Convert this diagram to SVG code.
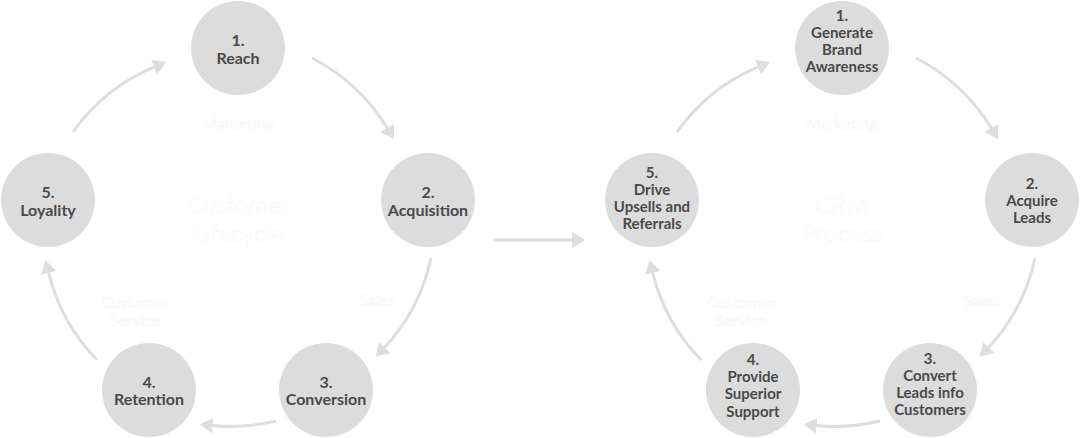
<svg xmlns="http://www.w3.org/2000/svg" width="1080" height="438" viewBox="0 0 1080 438">
<style>
.node{fill:#dcdcdc}
.lbl{font-family:Lato,"Liberation Sans",sans-serif;font-weight:bold;fill:#4a4a4a;text-anchor:middle}
.l16{font-size:16px}
.l15{font-size:15px}
.ghost{font-family:Lato,"Liberation Sans",sans-serif;fill:#ffffff;stroke:#f6f6f6;stroke-width:0.5;text-anchor:middle}
.g16{font-size:16px}
.g24{font-size:24px}
.conn{fill:none;stroke:#dedede;stroke-width:3}
</style>
<defs>
<marker id="ah" markerUnits="userSpaceOnUse" markerWidth="14" markerHeight="16" refX="1" refY="8" orient="auto" viewBox="0 0 14 16">
<path d="M0,0 L13,8 L0,16 z" fill="#dedede"/>
</marker>
</defs>
<rect width="1080" height="438" fill="#ffffff"/>
<g id="connectors">
<path class="conn" marker-end="url(#ah)" d="M312,58 A190,190 0 0 1 387.7,128.8"/>
<path class="conn" marker-end="url(#ah)" d="M431,258 A190,190 0 0 1 384,348.1"/>
<path class="conn" marker-end="url(#ah)" d="M276,421 A190,190 0 0 1 211.7,425.5"/>
<path class="conn" marker-end="url(#ah)" d="M97,360 A190,190 0 0 1 48.5,271.9"/>
<path class="conn" marker-end="url(#ah)" d="M73,132 A190,190 0 0 1 155,66.7"/>
<path class="conn" marker-end="url(#ah)" d="M493,240 L573,240"/>
<path class="conn" marker-end="url(#ah)" d="M916,58 A190,190 0 0 1 991.7,128.8"/>
<path class="conn" marker-end="url(#ah)" d="M1035,258 A190,190 0 0 1 988,348.1"/>
<path class="conn" marker-end="url(#ah)" d="M880,421 A190,190 0 0 1 815.7,425.5"/>
<path class="conn" marker-end="url(#ah)" d="M701,360 A190,190 0 0 1 652.5,271.9"/>
<path class="conn" marker-end="url(#ah)" d="M677,132 A190,190 0 0 1 759,66.7"/>
</g>
<g id="left-center">
<text class="ghost g16" x="238" y="129">Marketing</text>
<text class="ghost g24" x="238" y="212.6">Customer</text>
<text class="ghost g24" x="238" y="241.6">Lifecycle</text>
<text class="ghost g16" x="135" y="307.8">Customer</text>
<text class="ghost g16" x="135" y="325.8">Service</text>
<text class="ghost g16" x="377" y="305.8">Sales</text>
</g>
<g id="right-center">
<text class="ghost g16" x="842" y="129">Marketing</text>
<text class="ghost g24" x="842" y="213.6">CRM</text>
<text class="ghost g24" x="842" y="241.6">Process</text>
<text class="ghost g16" x="741" y="307.8">Customer</text>
<text class="ghost g16" x="741" y="325.8">Service</text>
<text class="ghost g16" x="981" y="305.8">Sales</text>
</g>
<g id="L1"><circle class="node" cx="238" cy="48" r="47"/><text class="lbl l16" x="238" y="46">1.<tspan x="238" dy="17.5">Reach</tspan></text></g>
<g id="L2"><circle class="node" cx="428" cy="200" r="47"/><text class="lbl l16" x="428" y="198">2.<tspan x="428" dy="17.5">Acquisition</tspan></text></g>
<g id="L3"><circle class="node" cx="326" cy="390" r="47"/><text class="lbl l16" x="326" y="387.5">3.<tspan x="326" dy="17.5">Conversion</tspan></text></g>
<g id="L4"><circle class="node" cx="149" cy="390" r="47"/><text class="lbl l16" x="149" y="387.5">4.<tspan x="149" dy="17.5">Retention</tspan></text></g>
<g id="L5"><circle class="node" cx="48" cy="200" r="47"/><text class="lbl l16" x="48" y="198">5.<tspan x="48" dy="17.5">Loyality</tspan></text></g>
<g id="R1"><circle class="node" cx="842" cy="48" r="47"/><text class="lbl l15" x="842" y="20.5">1.<tspan x="842" dy="17.2">Generate</tspan><tspan x="842" dy="17.2">Brand</tspan><tspan x="842" dy="17.2">Awareness</tspan></text></g>
<g id="R2"><circle class="node" cx="1032" cy="200" r="47"/><text class="lbl l15" x="1032" y="188.5">2.<tspan x="1032" dy="17.2">Acquire</tspan><tspan x="1032" dy="17.2">Leads</tspan></text></g>
<g id="R3"><circle class="node" cx="930" cy="390" r="47"/><text class="lbl l15" x="930" y="363.5">3.<tspan x="930" dy="17.2">Convert</tspan><tspan x="930" dy="17.2">Leads info</tspan><tspan x="930" dy="17.2">Customers</tspan></text></g>
<g id="R4"><circle class="node" cx="753" cy="390" r="47"/><text class="lbl l15" x="753" y="365">4.<tspan x="753" dy="17.2">Provide</tspan><tspan x="753" dy="17.2">Superior</tspan><tspan x="753" dy="17.2">Support</tspan></text></g>
<g id="R5"><circle class="node" cx="652" cy="200" r="47"/><text class="lbl l15" x="652" y="177.5">5.<tspan x="652" dy="17.2">Drive</tspan><tspan x="652" dy="17.2">Upsells and</tspan><tspan x="652" dy="17.2">Referrals</tspan></text></g>
</svg>
